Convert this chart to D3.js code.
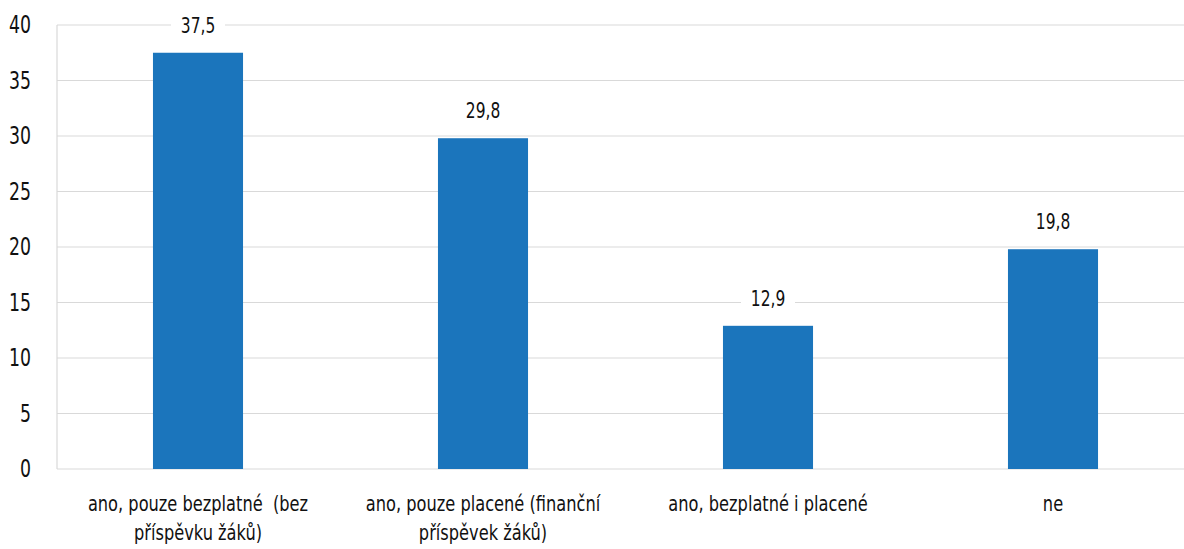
<!DOCTYPE html>
<html><head><meta charset="utf-8">
<script src="https://cdn.jsdelivr.net/npm/d3@7"></script>
<style>
html,body{margin:0;padding:0;background:#fff;}
svg{display:block;font-family:"DejaVu Sans Condensed","Liberation Sans Narrow",sans-serif;}
</style></head>
<body><svg id="chart" width="1184" height="549"></svg>
<script>
const categories = [
  ["ano, pouze bezplatné  (bez", "příspěvku žáků)"],
  ["ano, pouze placené (finanční", "příspěvek žáků)"],
  ["ano, bezplatné i placené"],
  ["ne"]
];
const values = [37.5, 29.8, 12.9, 19.8];
const valueLabels = ["37,5", "29,8", "12,9", "19,8"];
const yTicks = [0, 5, 10, 15, 20, 25, 30, 35, 40];

const svg = d3.select("#chart");
const W = 1184;
const x = d3.scaleBand().domain(d3.range(values.length)).range([55.5, 1195.5]).paddingInner(0.684).paddingOuter(0.342);
const y = d3.scaleLinear().domain([0, 40]).range([469, 25]);
const SX = 0.82;

// gridlines
svg.append("g").selectAll("line").data(yTicks).join("line")
  .attr("x1", 57).attr("x2", W).attr("y1", d => y(d)).attr("y2", d => y(d))
  .attr("stroke", "#d9d9d9").attr("stroke-width", 1.2);
// vertical axis line
svg.append("line").attr("x1", 57).attr("x2", 57).attr("y1", y(40)).attr("y2", y(0))
  .attr("stroke", "#d9d9d9").attr("stroke-width", 1.2);

// y tick labels
svg.append("g").selectAll("g").data(yTicks).join("g")
  .attr("transform", d => `translate(31,${y(d) + 8}) scale(0.8,1)`)
  .append("text").attr("text-anchor", "end").attr("font-size", 24).attr("fill", "#111")
  .text(d => d);

// bars
svg.append("g").selectAll("rect").data(values).join("rect")
  .attr("x", (d, i) => x(i)).attr("width", x.bandwidth())
  .attr("y", d => y(d)).attr("height", d => y(0) - y(d))
  .attr("fill", "#1b75bc");

// value labels with white background
const vl = svg.append("g").selectAll("g").data(values).join("g")
  .attr("transform", (d, i) => `translate(${x(i) + x.bandwidth() / 2},${y(d) - 20})`);
vl.append("rect").attr("x", -27).attr("y", -20).attr("width", 54).attr("height", 26).attr("fill", "#fff");
vl.append("g").attr("transform", `scale(${SX},1)`)
  .append("text").attr("text-anchor", "middle")
  .attr("font-size", 21).attr("fill", "#111")
  .text((d, i) => valueLabels[i]);

// category labels
const cl = svg.append("g").selectAll("g").data(categories).join("g")
  .attr("transform", (d, i) => `translate(${x(i) + x.bandwidth() / 2},511) scale(${SX},1)`)
  .append("text").attr("text-anchor", "middle").attr("font-size", 22).attr("fill", "#111");
cl.selectAll("tspan").data(d => d).join("tspan")
  .attr("x", 0).attr("dy", (d, j) => j === 0 ? 0 : 29.5)
  .attr("xml:space", "preserve")
  .text(d => d);
</script></body></html>
